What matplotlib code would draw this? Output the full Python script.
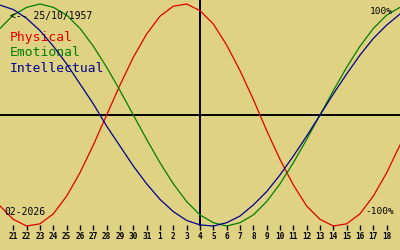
import numpy as np
import matplotlib.pyplot as plt

# days shown: 20 Jan .. 19 Feb 2026, centre day = 4 Feb
days = [20, 21, 22, 23, 24, 25, 26, 27, 28, 29, 30, 31,
        1, 2, 3, 4, 5, 6, 7, 8, 9, 10, 11, 12, 13, 14, 15, 16, 17, 18, 19]
offset = np.arange(-15, 16)

# biorhythm values in percent, one per day
physical = [-82, -94, -100, -98, -89, -73, -52, -27, 0, 27, 52, 73, 89, 98, 100,
            94, 82, 63, 40, 14, -14, -40, -63, -82, -94, -100, -98, -89, -73, -52, -27]
emotional = [78, 90, 97, 100, 97, 90, 78, 62, 43, 22, 0, -22, -43, -62, -78,
             -90, -97, -100, -97, -90, -78, -62, -43, -22, 0, 22, 43, 62, 78, 90, 97]
intellectual = [99, 95, 87, 76, 62, 46, 28, 10, -10, -28, -46, -62, -76, -87, -95,
                -99, -100, -97, -91, -81, -69, -54, -37, -19, 0, 19, 37, 54, 69, 81, 91]

names = ['Physical', 'Emotional', 'Intellectual']
colors = ['#e00000', '#008000', '#000090']
birth = '<-- 25/10/1957'
month = '02-2026'

bg = '#e0d283'
fig = plt.figure(figsize=(4, 2.5), dpi=100, facecolor=bg)
ax = fig.add_axes([0, 0, 1, 1])
ax.set_facecolor(bg)
ax.set_xlim(-15, 15)
ax.set_ylim(-121.6, 103.6)
ax.axis('off')

# axes cross
ax.axhline(0, color='black', lw=1.4, zorder=2)
ax.vlines(0, -100, 103.6, color='black', lw=1.4, zorder=2)

for vals, c in zip([physical, emotional, intellectual], colors):
    ax.plot(offset, vals, color=c, lw=0.9, zorder=3)

# day ticks
mono = 'DejaVu Sans Mono'
for x, d in zip(offset[1:-1], days[1:-1]):
    ax.vlines(x, -99.5, -104, color='black', lw=1.0)
    ax.text(x, -109.5, str(d), ha='center', va='center', fontsize=5.6,
            fontweight='bold', family=mono)

# labels
T = ax.transAxes
ax.text(10 / 400, 1 - 16 / 250, birth, transform=T, fontsize=7, family=mono,
        va='center', ha='left')
for i, (n, c) in enumerate(zip(names, colors)):
    ax.text(10 / 400, 1 - (38 + 15 * i) / 250, n, transform=T, fontsize=9.4,
            family=mono, color=c, va='center', ha='left', zorder=1)
ax.text(393 / 400, 1 - 12 / 250, '100%', transform=T, fontsize=6.8, family=mono,
        va='center', ha='right')
ax.text(394 / 400, 1 - 212 / 250, '-100%', transform=T, fontsize=6.8, family=mono,
        va='center', ha='right')
ax.text(4 / 400, 1 - 212 / 250, month, transform=T, fontsize=7, family=mono,
        va='center', ha='left')

fig.savefig('out.png', dpi=100, facecolor=bg)
